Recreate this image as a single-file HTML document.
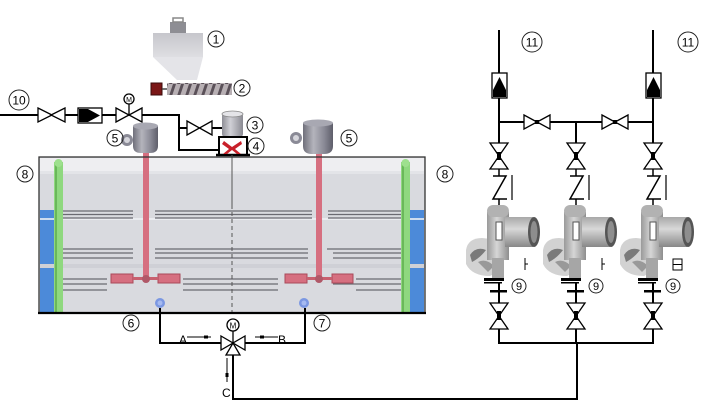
<!DOCTYPE html>
<html><head><meta charset="utf-8"><style>
html,body{margin:0;padding:0;background:#fff;}
svg{display:block;}
text{font-family:"Liberation Sans",sans-serif;}
</style></head><body>
<svg width="706" height="413" viewBox="0 0 706 413" xmlns="http://www.w3.org/2000/svg">
<defs>
<linearGradient id="motorG" x1="0" x2="1" y1="0" y2="0">
<stop offset="0" stop-color="#6f6f7a"/><stop offset="0.35" stop-color="#b4b4bc"/><stop offset="0.7" stop-color="#8a8a96"/><stop offset="1" stop-color="#5e5e6a"/>
</linearGradient>
<linearGradient id="hopG" x1="0" x2="0" y1="0" y2="1">
<stop offset="0" stop-color="#c6c6cc"/><stop offset="1" stop-color="#dedee2"/>
</linearGradient>
<linearGradient id="cylG" x1="0" x2="1">
<stop offset="0" stop-color="#8e8e96"/><stop offset="0.4" stop-color="#d0d0d6"/><stop offset="1" stop-color="#8a8a92"/>
</linearGradient>
<linearGradient id="pumpG" x1="0" x2="1">
<stop offset="0" stop-color="#9a9a9a"/><stop offset="0.45" stop-color="#d6d6d6"/><stop offset="1" stop-color="#8e8e8e"/>
</linearGradient>
<linearGradient id="headG" x1="0" x2="0" y1="0" y2="1">
<stop offset="0" stop-color="#a8a8a8"/><stop offset="0.4" stop-color="#d8d8d8"/><stop offset="1" stop-color="#888"/>
</linearGradient>
<pattern id="screw" width="8" height="12" patternUnits="userSpaceOnUse">
<rect width="8" height="12" fill="#b8b0b4"/>
<path d="M1,12 L5,0 L8,0 L4,12Z" fill="#5a5058"/>
</pattern>
</defs>

<!-- ===== Hopper ① ===== -->
<rect x="170" y="22" width="16" height="11" fill="#8e8e94"/>
<rect x="173" y="18" width="10" height="4" fill="none" stroke="#888" stroke-width="1.5"/>
<rect x="153" y="33" width="50" height="24" fill="url(#hopG)"/>
<polygon points="153,57 203,57 197,80 177,80" fill="#e4e4e8"/>
<!-- screw ② -->
<rect x="151" y="83" width="11" height="12" fill="#7a1616" stroke="#3a0a0a" stroke-width="1"/>
<line x1="162" y1="89" x2="168" y2="89" stroke="#444" stroke-width="1.5"/>
<rect x="167" y="83" width="65" height="12" fill="url(#screw)"/>

<!-- ===== Left piping ⑩ ===== -->
<g stroke="#000" stroke-width="2" fill="none">
<line x1="0" y1="115" x2="38" y2="115"/>
<line x1="65" y1="115" x2="78" y2="115"/>
<line x1="102" y1="115" x2="116" y2="115"/>
<polyline points="142,115 179,115 179,150 219,150"/>
<line x1="179" y1="128" x2="187" y2="128"/>
<line x1="212" y1="128" x2="223" y2="128"/>
</g>
<g fill="#fff" stroke="#000" stroke-width="1.3">
<polygon points="38,108 52,115 38,122"/><polygon points="65,108 51,115 65,122"/>
</g>
<rect x="78" y="108" width="24" height="15" fill="#fff" stroke="#000" stroke-width="1.3"/>
<polygon points="79,109 88,109 100,115.5 88,122 79,122" fill="#000"/>
<g fill="#fff" stroke="#000" stroke-width="1.3">
<polygon points="116,108 129,115 116,122"/><polygon points="142,108 129,115 142,122"/>
<line x1="129" y1="104" x2="129" y2="115"/>
<circle cx="129" cy="99" r="5"/>
</g>
<text x="129" y="102" font-size="7" text-anchor="middle" fill="#000">M</text>
<g fill="#fff" stroke="#000" stroke-width="1.3">
<polygon points="187,121 199.5,128 187,135"/><polygon points="212,121 199.5,128 212,135"/>
</g>
<!-- ③ cylinder -->
<rect x="222" y="113" width="21" height="24" rx="3" fill="url(#cylG)"/>
<ellipse cx="232.5" cy="114" rx="10.5" ry="3" fill="#e4e4e8" stroke="#888" stroke-width="0.8"/>
<!-- ④ box -->
<rect x="219" y="137" width="28" height="18" fill="#fff" stroke="#000" stroke-width="2"/>
<line x1="216" y1="155" x2="250" y2="155" stroke="#000" stroke-width="2.5"/>
<path d="M224,141 L232,147 L241,141 L242,144 L235,149 L241,154 L237,154 L232,150 L227,154 L223,154 L229,149 L222,144Z" fill="#c8202a"/>

<!-- ===== Tank ===== -->
<rect x="39" y="157" width="386" height="156" fill="#d9dadf"/>
<rect x="40" y="158" width="384" height="13" fill="#eeeef1"/>
<rect x="40" y="171" width="384" height="3" fill="#e3e4e8"/>
<rect x="40" y="210" width="15" height="102" fill="#4c8ad9"/>
<rect x="410" y="210" width="14" height="102" fill="#4c8ad9"/>
<rect x="40" y="218" width="384" height="2" fill="#eef0f4" opacity="0.8"/>
<rect x="40" y="264" width="384" height="4" fill="#cfd0d6"/>
<g stroke="#6a6a72" stroke-width="1.2">
<line x1="63" y1="211" x2="133" y2="211"/><line x1="63" y1="214.5" x2="133" y2="214.5"/><line x1="63" y1="218" x2="133" y2="218"/>
<line x1="155" y1="211" x2="312" y2="211"/><line x1="155" y1="214.5" x2="312" y2="214.5"/><line x1="155" y1="218" x2="312" y2="218"/>
<line x1="328" y1="211" x2="402" y2="211"/><line x1="328" y1="214.5" x2="402" y2="214.5"/><line x1="328" y1="218" x2="402" y2="218"/>
<line x1="63" y1="249" x2="133" y2="249"/><line x1="63" y1="253" x2="133" y2="253"/><line x1="63" y1="258" x2="133" y2="258"/>
<line x1="155" y1="249" x2="308" y2="249"/><line x1="155" y1="253" x2="308" y2="253"/><line x1="155" y1="258" x2="308" y2="258"/>
<line x1="327" y1="249" x2="402" y2="249"/><line x1="333" y1="253" x2="402" y2="253"/><line x1="333" y1="258" x2="402" y2="258"/>
<line x1="63" y1="279" x2="107" y2="279"/><line x1="63" y1="284" x2="107" y2="284"/><line x1="63" y1="290" x2="107" y2="290"/>
<line x1="183" y1="279" x2="278" y2="279"/><line x1="183" y1="284" x2="278" y2="284"/><line x1="183" y1="290" x2="278" y2="290"/>
<line x1="356" y1="279" x2="402" y2="279"/><line x1="333" y1="284" x2="402" y2="284"/><line x1="356" y1="290" x2="402" y2="290"/>
</g>
<rect x="54" y="162" width="9" height="150" fill="#8fd87f"/>
<rect x="55" y="162" width="2" height="150" fill="#6ab85a"/>
<circle cx="58.5" cy="163" r="4" fill="#9ee08e"/>
<rect x="401" y="162" width="9" height="150" fill="#8fd87f"/>
<rect x="402" y="162" width="2" height="150" fill="#6ab85a"/>
<circle cx="405.5" cy="163" r="4" fill="#9ee08e"/>
<line x1="232" y1="155" x2="232" y2="205" stroke="#555" stroke-width="1"/>
<line x1="232" y1="205" x2="232" y2="313" stroke="#555" stroke-width="1" stroke-dasharray="4,3"/>
<rect x="143" y="150" width="6" height="130" fill="#d66f80"/>
<rect x="316" y="150" width="6" height="130" fill="#d66f80"/>
<g fill="#d66f80" stroke="#a94a5a" stroke-width="1">
<rect x="111" y="274" width="22" height="9"/><rect x="158" y="274" width="22" height="9"/>
<rect x="285" y="274" width="22" height="9"/><rect x="332" y="274" width="21" height="9"/>
</g>
<rect x="133" y="277" width="25" height="3" fill="#c8606f"/>
<rect x="307" y="277" width="25" height="3" fill="#c8606f"/>
<circle cx="146" cy="279" r="4" fill="#b05868"/>
<circle cx="319" cy="279" r="4" fill="#b05868"/>
<circle cx="160" cy="303" r="5" fill="#7b97e2"/><circle cx="160" cy="303" r="2.5" fill="#a6baf0"/>
<circle cx="304" cy="303" r="5" fill="#7b97e2"/><circle cx="304" cy="303" r="2.5" fill="#a6baf0"/>
<rect x="39" y="157" width="386" height="156" fill="none" stroke="#333" stroke-width="1.3"/>
<line x1="38" y1="313" x2="426" y2="313" stroke="#000" stroke-width="2.2"/>

<!-- ⑤ motors -->
<ellipse cx="127" cy="140" rx="6" ry="6" fill="#8a8a96"/>
<ellipse cx="127" cy="140" rx="3" ry="3" fill="#d6d6dc"/>
<path d="M133,126 L158,126 L158,146 Q158,153 150,153 L141,153 Q133,153 133,146Z" fill="url(#motorG)"/>
<ellipse cx="145.5" cy="126" rx="12.5" ry="3.5" fill="#a8a8b2"/>
<ellipse cx="296" cy="138" rx="6" ry="6" fill="#8a8a96"/>
<ellipse cx="296" cy="138" rx="3" ry="3" fill="#d6d6dc"/>
<path d="M303,123 L333,123 L333,146 Q333,154 324,154 L312,154 Q303,154 303,146Z" fill="url(#motorG)"/>
<ellipse cx="318" cy="123" rx="15" ry="3.5" fill="#a8a8b2"/>

<!-- ===== bottom piping / 3-way valve ===== -->
<g stroke="#000" stroke-width="2" fill="none">
<polyline points="160,308 160,343 221,343"/>
<polyline points="305,308 305,343 245,343"/>
<polyline points="233,355 233,399 577,399 577,343"/>
</g>
<g fill="#fff" stroke="#000" stroke-width="1.3">
<polygon points="221,336 233,343 221,350"/>
<polygon points="245,336 233,343 245,350"/>
<polygon points="226,355 240,355 233,343"/>
<line x1="233" y1="331" x2="233" y2="343"/>
<circle cx="233" cy="325" r="6"/>
</g>
<text x="233" y="328.5" font-size="8" text-anchor="middle">M</text>
<g stroke="#000" stroke-width="1">
<line x1="187" y1="337" x2="211" y2="337"/>
<line x1="255" y1="337" x2="278" y2="337"/>
<line x1="227" y1="358" x2="227" y2="382"/>
</g>
<rect x="204" y="335.5" width="4" height="3" fill="#000"/>
<rect x="260" y="335.5" width="4" height="3" fill="#000"/>
<rect x="225.5" y="373" width="3" height="4" fill="#000"/>
<text x="179" y="344" font-size="12">A</text>
<text x="278" y="344" font-size="12">B</text>
<text x="222" y="397" font-size="12">C</text>

<!-- ===== Right manifold ===== -->
<g stroke="#000" stroke-width="2" fill="none">
<line x1="499" y1="30" x2="499" y2="73"/>
<line x1="653" y1="30" x2="653" y2="73"/>
<line x1="499" y1="98" x2="499" y2="143"/>
<line x1="653" y1="98" x2="653" y2="143"/>
<line x1="576" y1="122" x2="576" y2="143"/>
<line x1="499" y1="122" x2="524" y2="122"/>
<line x1="550" y1="122" x2="602" y2="122"/>
<line x1="628" y1="122" x2="653" y2="122"/>
<polyline points="499,328 499,343 653,343 653,328"/>
<line x1="576" y1="328" x2="576" y2="343"/>
</g>
<g>
<rect x="492" y="73" width="15" height="25" fill="#fff" stroke="#000" stroke-width="1.3"/>
<polygon points="499.5,77 506,90 506,97 493,97 493,90" fill="#000"/>
<rect x="646" y="73" width="15" height="25" fill="#fff" stroke="#000" stroke-width="1.3"/>
<polygon points="653.5,77 660,90 660,97 647,97 647,90" fill="#000"/>
</g>
<g fill="#fff" stroke="#000" stroke-width="1.3">
<polygon points="524,115 537,122 524,129"/><polygon points="550,115 537,122 550,129"/>
<polygon points="602,115 615,122 602,129"/><polygon points="628,115 615,122 628,129"/>
</g>
<rect x="535" y="120" width="4" height="4" fill="#000"/>
<rect x="613" y="120" width="4" height="4" fill="#000"/>

<g id="br">
<g fill="#fff" stroke="#000" stroke-width="1.3">
<polygon points="490,143 508,143 499,156"/><polygon points="490,169 508,169 499,156"/>
</g>
<rect x="497" y="152" width="4" height="8" fill="#000"/>
<g stroke="#000" stroke-width="1.5" fill="none">
<line x1="499" y1="169" x2="499" y2="176"/>
<polyline points="493,176 506,176 493,199 507,199"/>
<line x1="499" y1="199" x2="499" y2="206"/>
<line x1="512" y1="175" x2="512" y2="200" stroke-width="1.2"/>
</g>
<path d="M466,250 Q468,238 482,238 L500,240 L502,270 L490,276 Q472,276 466,264Z" fill="#d2d2d2"/>
<path d="M470,255 Q476,246 486,250 Q480,258 472,262Z" fill="#7a7a7a"/>
<path d="M478,262 Q486,258 494,266 L488,272Z" fill="#999"/>
<rect x="487" y="212" width="22" height="48" fill="url(#pumpG)"/>
<rect x="487" y="205" width="22" height="12" rx="6" fill="#b2b2b2"/>
<rect x="496" y="222" width="6" height="18" fill="#fff" stroke="#555" stroke-width="1"/>
<rect x="505" y="217" width="28" height="30" fill="url(#headG)"/>
<ellipse cx="534" cy="232" rx="6" ry="15" fill="#555"/>
<ellipse cx="534" cy="232" rx="3.5" ry="11" fill="#8e8e8e"/>
<rect x="492" y="258" width="12" height="22" fill="#a6a6a6"/>
<rect x="484" y="278" width="20" height="3" fill="#000"/>
<rect x="484" y="282" width="18" height="1.5" fill="#000"/>
<line x1="499" y1="283" x2="499" y2="303" stroke="#000" stroke-width="2"/>
<rect x="490" y="290" width="17" height="2.5" fill="#000"/>
<g fill="#fff" stroke="#000" stroke-width="1.3">
<polygon points="490,303 508,303 499,316"/><polygon points="490,329 508,329 499,316"/>
</g>
<rect x="497" y="311" width="4" height="9" fill="#000"/>
<line x1="525" y1="258" x2="525" y2="270" stroke="#000" stroke-width="1"/>
<line x1="525" y1="264" x2="528" y2="264" stroke="#000" stroke-width="1"/>
</g>
<use href="#br" x="77"/>
<use href="#br" x="154"/>
<rect x="672" y="258" width="12" height="14" fill="#fff"/>
<rect x="673" y="259" width="9" height="11" fill="none" stroke="#000" stroke-width="1"/>
<line x1="673" y1="264.5" x2="682" y2="264.5" stroke="#000" stroke-width="1"/>

<!-- ===== circled labels ===== -->
<g fill="none" stroke="#222" stroke-width="1">
<circle cx="216" cy="39" r="8"/>
<circle cx="242" cy="88" r="8"/>
<circle cx="255" cy="125" r="8"/>
<circle cx="256" cy="146" r="8"/>
<circle cx="115" cy="138" r="8"/>
<circle cx="349" cy="138" r="8"/>
<circle cx="19" cy="100" r="10"/>
<circle cx="25" cy="174" r="8"/>
<circle cx="445" cy="174" r="8"/>
<circle cx="131" cy="323" r="8"/>
<circle cx="322" cy="323" r="8"/>
<circle cx="532" cy="42" r="10"/>
<circle cx="688" cy="42" r="10"/>
<circle cx="519" cy="286" r="7"/>
<circle cx="596" cy="286" r="7"/>
<circle cx="673" cy="286" r="7"/>
</g>
<g font-size="12" text-anchor="middle" fill="#000">
<text x="216" y="43.5">1</text>
<text x="242" y="92.5">2</text>
<text x="255" y="129.5">3</text>
<text x="256" y="150.5">4</text>
<text x="115" y="142.5">5</text>
<text x="349" y="142.5">5</text>
<text x="19" y="104.5">10</text>
<text x="25" y="178.5">8</text>
<text x="445" y="178.5">8</text>
<text x="131" y="327.5">6</text>
<text x="322" y="327.5">7</text>
<text x="532" y="46.5">11</text>
<text x="688" y="46.5">11</text>
</g>
<g font-size="11" text-anchor="middle" fill="#000">
<text x="519" y="290">9</text>
<text x="596" y="290">9</text>
<text x="673" y="290">9</text>
</g>
</svg>
</body></html>
